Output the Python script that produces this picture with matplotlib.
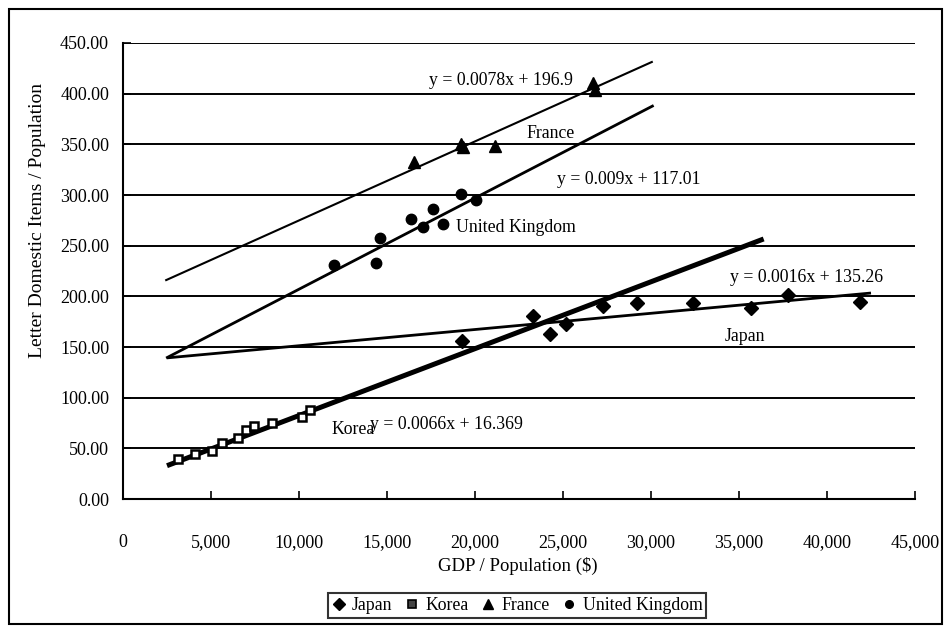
import matplotlib
matplotlib.use("Agg")
import matplotlib.pyplot as plt
import numpy as np
from matplotlib.lines import Line2D

plt.rcParams['font.family'] = ['Liberation Serif', 'DejaVu Serif']

# ---- data ----
japan_x = [19240, 23300, 24280, 25150, 27250, 29200, 32400, 35660, 37800, 41900]
japan_y = [156, 181, 163, 173, 190, 193, 193, 188, 201, 194]

korea_x = [3100, 4070, 5040, 5610, 6560, 7000, 7430, 8480, 10170, 10610]
korea_y = [39, 44, 47, 55, 60, 68, 72, 75, 81, 88]

france_x = [16560, 19200, 19300, 21130, 26700, 26800]
france_y = [333, 350, 347, 348, 411, 404]

uk_x = [12000, 14400, 14600, 16350, 17050, 17600, 18200, 19200, 20050]
uk_y = [231, 233, 258, 276, 268, 286, 271, 301, 295]

# trendline coefficients (as printed) and drawn x ranges
trend_names = ['Japan', 'Korea', 'France', 'United Kingdom']
trend_slope = [0.0016, 0.0066, 0.0078, 0.009]
trend_icpt = [135.26, 16.369, 196.9, 117.01]
trend_x0 = [2500, 2500, 2400, 2450]
trend_x1 = [42500, 36400, 30100, 30150]
trend_lw = [2.0, 3.6, 1.5, 2.0]

eq_text = ['y = 0.0016x + 135.26', 'y = 0.0066x + 16.369',
           'y = 0.0078x + 196.9', 'y = 0.009x + 117.01']

y_ticks = [0, 50, 100, 150, 200, 250, 300, 350, 400, 450]
x_ticks = [0, 5000, 10000, 15000, 20000, 25000, 30000, 35000, 40000, 45000]

W, H = 944, 630
fig = plt.figure(figsize=(W / 100, H / 100), dpi=100)
ax = fig.add_axes([123 / W, 1 - 499 / H, (915 - 123) / W, (499 - 43) / H])

# gridlines
ax.set_ylim(0, 450)
ax.set_xlim(0, 45000)
ax.set_yticks(y_ticks)
ax.set_xticks(x_ticks)
ax.yaxis.grid(True, color='black', linewidth=1.4)
ax.set_axisbelow(True)
ax.set_yticklabels([f"{v:.2f}" for v in y_ticks], fontsize=13)
ax.set_xticklabels([f"{v:,}" for v in x_ticks], fontsize=13)
ax.tick_params(axis='both', direction='in', length=6, width=1.2, colors='black')
ax.tick_params(axis='y', pad=10)
ax.tick_params(axis='x', pad=25)
for s in ['top', 'right']:
    ax.spines[s].set_visible(False)
for s in ['left', 'bottom']:
    ax.spines[s].set_linewidth(1.5)

# trendlines
for m, b, x0, x1, lw in zip(trend_slope, trend_icpt, trend_x0, trend_x1, trend_lw):
    xs = np.array([x0, x1])
    ax.plot(xs, m * xs + b, color='black', linewidth=lw, zorder=3, solid_capstyle='butt')

# data points
ax.plot(japan_x, japan_y, linestyle='none', marker='D', markersize=7, color='black', zorder=4)
ax.plot(korea_x, korea_y, linestyle='none', marker='s', markersize=6,
        markerfacecolor='white', markeredgecolor='black', markeredgewidth=1.8, zorder=4)
ax.plot(france_x, france_y, linestyle='none', marker='^', markersize=9, color='black', zorder=4)
ax.plot(uk_x, uk_y, linestyle='none', marker='o', markersize=7.5, color='black', zorder=4)

# labels on chart
fs = 12.8
ax.text(21480, 413, eq_text[2], ha='center', va='center', fontsize=fs)
ax.text(24290, 361, 'France', ha='center', va='center', fontsize=fs)
ax.text(28750, 315, eq_text[3], ha='center', va='center', fontsize=fs)
ax.text(18900, 268, 'United Kingdom', ha='left', va='center', fontsize=fs)
ax.text(38840, 219, eq_text[0], ha='center', va='center', fontsize=fs)
ax.text(35340, 160, 'Japan', ha='center', va='center', fontsize=fs)
ax.text(13100, 69, 'Korea', ha='center', va='center', fontsize=fs)
ax.text(18400, 74, eq_text[1], ha='center', va='center', fontsize=fs)

# axis titles
fig.text(38 / W, 1 - 220 / H, 'Letter Domestic Items / Population', rotation=90,
         ha='center', va='center', fontsize=14)
fig.text(518 / W, 1 - 566 / H, 'GDP / Population ($)', ha='center', va='center', fontsize=13.5)

# legend
handles = [
    Line2D([], [], linestyle='none', marker='D', markersize=6, color='black'),
    Line2D([], [], linestyle='none', marker='s', markersize=6, markerfacecolor='#444444',
           markeredgecolor='black', markeredgewidth=1.2),
    Line2D([], [], linestyle='none', marker='^', markersize=7, color='black'),
    Line2D([], [], linestyle='none', marker='o', markersize=5.5, color='black'),
]
leg = fig.legend(handles, trend_names, loc='center', ncol=4,
                 bbox_to_anchor=(517 / W, 1 - 605.5 / H), frameon=True, fancybox=False,
                 edgecolor='black', fontsize=12.8, handlelength=0.8, handletextpad=0.35,
                 columnspacing=0.7, borderpad=0.2, borderaxespad=0)
leg.get_frame().set_linewidth(1.5)

# outer chart border
fig.patches.append(plt.Rectangle((9 / W, 1 - 624 / H), (942 - 9) / W, (624 - 9) / H,
                                 transform=fig.transFigure, fill=False,
                                 edgecolor='black', linewidth=1.5))

fig.savefig('out.png', dpi=100)
